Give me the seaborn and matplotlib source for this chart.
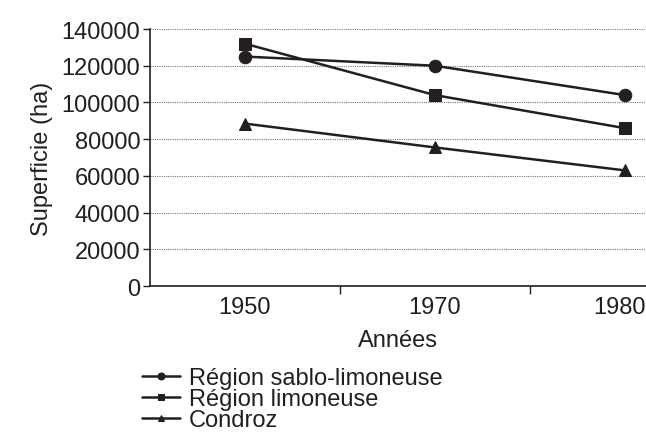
import pandas as pd
import seaborn as sns
import matplotlib.pyplot as plt
from matplotlib.ticker import FixedLocator
from matplotlib.transforms import ScaledTranslation

years = ['1950', '1970', '1980']
sablo_limoneuse = [125000, 120000, 104000]
limoneuse = [132000, 104000, 86000]
condroz = [88500, 75500, 63000]
regions = ['Région sablo-limoneuse', 'Région limoneuse', 'Condroz']

df = pd.DataFrame({
    'Années': years * 3,
    'Superficie': sablo_limoneuse + limoneuse + condroz,
    'Région': [r for r in regions for _ in years],
})

sns.set_style('white')
plt.rcParams['font.family'] = ['Liberation Sans', 'DejaVu Sans']
ink = '#231f20'

fig = plt.figure(figsize=(6.46, 4.35), dpi=100)
ax = fig.add_axes([0.232, 0.340, 0.768, 0.591])

sns.lineplot(data=df, x='Années', y='Superficie', hue='Région', style='Région',
             palette=[ink] * 3, markers=['o', 's', '^'], dashes=False,
             markersize=9, linewidth=1.8, markeredgecolor=ink, ax=ax)

ax.set_xlim(-0.5, 2.11)
ax.set_ylim(0, 140000)
ax.set_yticks(range(0, 140001, 20000))
ax.tick_params(axis='y', labelsize=17, length=5, width=1, color=ink, labelcolor=ink, pad=2, left=True)
ax.tick_params(axis='x', which='major', labelsize=17, length=0, pad=7, labelcolor=ink)
ax.xaxis.set_minor_locator(FixedLocator([0.5, 1.5]))
ax.tick_params(axis='x', which='minor', length=6, width=1, color=ink, bottom=True)
for g in range(20000, 140001, 20000):
    ax.axhline(g, color='#777777', lw=0.8, ls=(0, (1, 1)), zorder=0)

# last year label sits a little left so it stays inside the picture
fig.canvas.draw()
last = ax.get_xticklabels()[-1]
last.set_transform(last.get_transform() + ScaledTranslation(-6 / 100, 0, fig.dpi_scale_trans))

for s in ['top', 'right']:
    ax.spines[s].set_visible(False)
for s in ['left', 'bottom']:
    ax.spines[s].set_color(ink)
    ax.spines[s].set_linewidth(1.2)

ax.set_xlabel('Années', fontsize=17, color=ink, labelpad=8)
ax.set_ylabel('Superficie (ha)', fontsize=17, color=ink, labelpad=6)

handles, labels = ax.get_legend_handles_labels()
ax.legend_.remove()
for h in handles:
    h.set_markersize(5)
fig.legend(handles, labels, loc='upper left', bbox_to_anchor=(0.205, 0.176),
           frameon=False, fontsize=17, handlelength=1.6, handletextpad=0.4,
           labelspacing=-0.04, borderaxespad=0, labelcolor=ink)

fig.savefig('out.png', dpi=100)
